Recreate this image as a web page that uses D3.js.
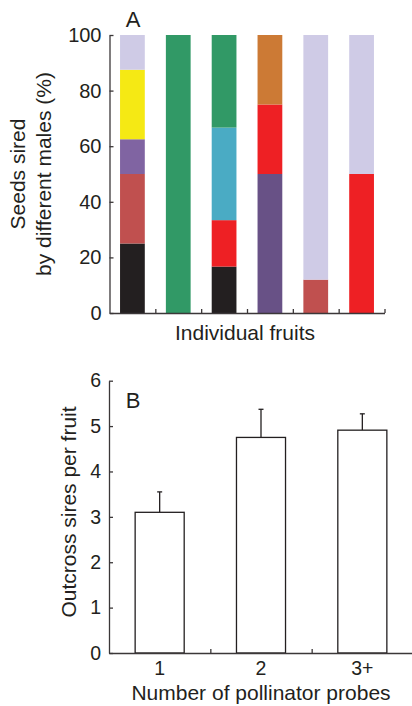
<!DOCTYPE html>
<html>
<head>
<meta charset="utf-8">
<script src="https://cdn.jsdelivr.net/npm/d3@7"></script>
<style>
  body { margin: 0; background: #fff; }
  svg text { font-family: "Liberation Sans", Arial, Helvetica, sans-serif; fill: #231f20; }
  .axis path, .axis line { stroke: #3b3738; stroke-width: 1.3; }
</style>
</head>
<body>
<div id="chart"></div>
<script>
// panel A: share of seeds sired by each male, per fruit (bottom to top)
var fruits = ["f1", "f2", "f3", "f4", "f5", "f6"];
var fruitShares = [
  [25, 25, 12.5, 25, 12.5],
  [100],
  [16.7, 16.7, 33.3, 33.3],
  [50, 25, 25],
  [12, 88],
  [50, 50]
];
var fruitSires = [
  ["black", "brick", "violet", "yellow", "lilac"],
  ["green"],
  ["black", "red", "cyan", "green"],
  ["plum", "red", "orange"],
  ["brick", "lilac"],
  ["red", "lilac"]
];
var sireIds = ["black", "brick", "violet", "yellow", "lilac", "green", "red", "cyan", "plum", "orange"];
var sireColours = ["#231f20", "#c0504f", "#8064a2", "#f5e914", "#cfcbe6", "#319966", "#ee2024", "#4aabc4", "#685186", "#cc7a35"];
var pctTicks = [0, 20, 40, 60, 80, 100];

// panel B: outcross sires per fruit
var probes = ["1", "2", "3+"];
var meanSires = [3.1, 4.75, 4.91];
var seSires = [0.45, 0.62, 0.36];
var siresTicks = [0, 1, 2, 3, 4, 5, 6];

var width = 412, height = 706;

var svg = d3.select("#chart").append("svg")
    .attr("width", width)
    .attr("height", height);

var colour = d3.scaleOrdinal().domain(sireIds).range(sireColours);

// ---------- panel A ----------
var xA = d3.scaleBand().domain(fruits).range([109.5, 384.5]).paddingInner(0.46).paddingOuter(0.23);
var xEdges = d3.scaleLinear().domain([0, fruits.length]).range([109.5, 384.5]);
var yA = d3.scaleLinear().domain([0, 100]).range([313, 35]);

var segs = [];
fruits.forEach(function(f, i) {
  var tops = d3.cumsum(fruitShares[i]);
  fruitShares[i].forEach(function(v, j) {
    segs.push({ fruit: f, lo: tops[j] - v, hi: tops[j], sire: fruitSires[i][j] });
  });
});

var gA = svg.append("g");

gA.selectAll(".seg")
  .data(segs)
  .enter().append("rect")
  .attr("class", "seg")
  .attr("x", function(d) { return xA(d.fruit); })
  .attr("width", xA.bandwidth())
  .attr("y", function(d) { return yA(d.hi); })
  .attr("height", function(d) { return yA(d.lo) - yA(d.hi); })
  .attr("fill", function(d) { return colour(d.sire); });

gA.append("g")
  .attr("class", "axis")
  .attr("transform", "translate(109.5,0)")
  .call(d3.axisLeft(yA).tickValues(pctTicks).tickSize(-4).tickSizeOuter(0).tickPadding(8))
  .call(function(g) { g.selectAll("text").style("font-size", "20px"); });

gA.append("g")
  .attr("class", "axis")
  .attr("transform", "translate(0,313)")
  .call(d3.axisBottom(xEdges).tickValues(d3.range(1, fruits.length + 1)).tickSize(-4).tickSizeOuter(0).tickFormat(""));

gA.append("text")
  .attr("x", 133).attr("y", 27)
  .attr("text-anchor", "middle")
  .style("font-size", "22px")
  .text("A");

gA.append("text")
  .attr("x", 245).attr("y", 340)
  .attr("text-anchor", "middle")
  .style("font-size", "21px")
  .text("Individual fruits");

var titleA = gA.append("text")
  .attr("transform", "translate(0,174) rotate(-90)")
  .attr("text-anchor", "middle")
  .style("font-size", "21px");
titleA.append("tspan").attr("x", 0).attr("y", 25).text("Seeds sired");
titleA.append("tspan").attr("x", 0).attr("y", 51).text("by different males (%)");

// ---------- panel B ----------
var xB = d3.scaleBand().domain(probes).range([109, 413]).paddingInner(0.516).paddingOuter(0.258);
var xBEdges = d3.scaleLinear().domain([0, probes.length]).range([109, 413]);
var yB = d3.scaleLinear().domain([0, 6]).range([653, 380.7]);

var gB = svg.append("g");

var bars = gB.selectAll(".bar")
  .data(probes)
  .enter().append("g")
  .attr("class", "bar");

bars.append("line")
  .attr("x1", function(d) { return xB(d) + xB.bandwidth() / 2; })
  .attr("x2", function(d) { return xB(d) + xB.bandwidth() / 2; })
  .attr("y1", function(d, i) { return yB(meanSires[i]); })
  .attr("y2", function(d, i) { return yB(meanSires[i] + seSires[i]); })
  .attr("stroke", "#231f20").attr("stroke-width", 1.3);

bars.append("line")
  .attr("x1", function(d) { return xB(d) + xB.bandwidth() / 2 - 2.5; })
  .attr("x2", function(d) { return xB(d) + xB.bandwidth() / 2 + 2.5; })
  .attr("y1", function(d, i) { return yB(meanSires[i] + seSires[i]); })
  .attr("y2", function(d, i) { return yB(meanSires[i] + seSires[i]); })
  .attr("stroke", "#231f20").attr("stroke-width", 1.3);

bars.append("rect")
  .attr("x", function(d) { return xB(d); })
  .attr("width", xB.bandwidth())
  .attr("y", function(d, i) { return yB(meanSires[i]); })
  .attr("height", function(d, i) { return yB(0) - yB(meanSires[i]); })
  .attr("fill", "#fff")
  .attr("stroke", "#231f20")
  .attr("stroke-width", 1.3);

gB.append("g")
  .attr("class", "axis")
  .attr("transform", "translate(109,0)")
  .call(d3.axisLeft(yB).tickValues(siresTicks).tickFormat(d3.format("d")).tickSize(-4).tickSizeOuter(0).tickPadding(8))
  .call(function(g) { g.selectAll("text").style("font-size", "19.5px"); });

gB.append("g")
  .attr("class", "axis")
  .attr("transform", "translate(0,653)")
  .call(d3.axisBottom(xBEdges).tickValues(d3.range(1, probes.length)).tickSize(-4).tickSizeOuter(0).tickFormat(""));

gB.append("g")
  .attr("class", "axis")
  .attr("transform", "translate(0,653)")
  .call(d3.axisBottom(xB).tickSize(0).tickPadding(8))
  .call(function(g) {
    g.select(".domain").remove();
    g.selectAll("text").style("font-size", "19.5px");
  });

gB.append("text")
  .attr("x", 133).attr("y", 408)
  .attr("text-anchor", "middle")
  .style("font-size", "22px")
  .text("B");

gB.append("text")
  .attr("x", 261).attr("y", 700)
  .attr("text-anchor", "middle")
  .style("font-size", "21px")
  .text("Number of pollinator probes");

gB.append("text")
  .attr("transform", "translate(76,512) rotate(-90)")
  .attr("text-anchor", "middle")
  .style("font-size", "21px")
  .text("Outcross sires per fruit");
</script>
</body>
</html>
